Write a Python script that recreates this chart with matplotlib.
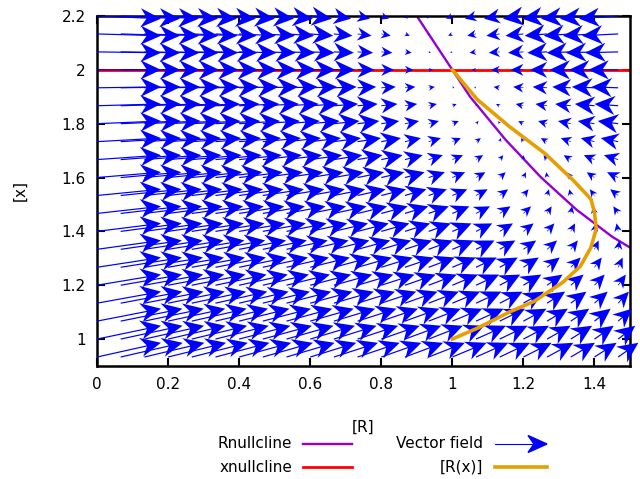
import numpy as np
import matplotlib
matplotlib.use("Agg")
from matplotlib import pyplot as plt
from matplotlib.lines import Line2D
from matplotlib.patches import Polygon

# R nullcline (R, x)
rnull_R = [0.90, 0.95, 1.00, 1.05, 1.10, 1.15, 1.20, 1.25, 1.30, 1.35, 1.40, 1.45, 1.50]
rnull_x = [2.20, 2.10, 2.00, 1.90, 1.82, 1.74, 1.67, 1.60, 1.54, 1.48, 1.43, 1.38, 1.34]

# x nullcline
xnull_R = [0.0, 1.5]
xnull_x = [2.0, 2.0]

# trajectory [R(x)]
traj_R = [1.00, 1.07, 1.16, 1.23, 1.31, 1.36, 1.39, 1.405, 1.40, 1.39, 1.34, 1.26, 1.16, 1.07, 1.00]
traj_x = [1.00, 1.04, 1.10, 1.14, 1.21, 1.27, 1.34, 1.41, 1.47, 1.52, 1.59, 1.69, 1.79, 1.89, 2.00]

# vector field grid (step 1/15) and the rates of the system
grid_R = np.arange(0, 23) / 15
grid_x = np.arange(14, 34) / 15
prod = 2.0       # dR/dt = prod - R*x
x_set = 2.0      # dx/dt = relax*(x_set - x)
relax = 0.55
arrow_scale = 0.09

plt.rcParams['font.family'] = ['DejaVu Sans']

fig = plt.figure(figsize=(6.4, 4.79), dpi=100)
ax = fig.add_axes([97 / 640, 1 - 366 / 479, 533 / 640, 350 / 479])

ax.plot(rnull_R, rnull_x, color='#9400d3', lw=1.7, zorder=2)
ax.plot(xnull_R, xnull_x, color='#ff0000', lw=2.0, zorder=2)

RR, XX = np.meshgrid(grid_R, grid_x)
dR = prod - RR * XX
dX = relax * (x_set - XX)
ax.quiver(RR, XX, dR * arrow_scale, dX * arrow_scale, angles='xy', scale_units='xy',
          scale=1, units='dots', width=1.2, headwidth=16, headlength=17,
          headaxislength=12, minlength=0.3, color='#0000ff', clip_on=False, zorder=3)

ax.plot(traj_R, traj_x, color='#e69f00', lw=2.6, zorder=4)

ax.set_xlim(0, 1.5)
ax.set_ylim(0.9, 2.2)
ax.set_xticks([0, 0.2, 0.4, 0.6, 0.8, 1.0, 1.2, 1.4])
ax.set_xticklabels(['0', '0.2', '0.4', '0.6', '0.8', '1', '1.2', '1.4'])
ax.set_yticks([1.0, 1.2, 1.4, 1.6, 1.8, 2.0, 2.2])
ax.set_yticklabels(['1', '1.2', '1.4', '1.6', '1.8', '2', '2.2'])
ax.tick_params(direction='in', top=True, right=True, length=6, width=1.5,
               labelsize=11, pad=8)
for sp in ax.spines.values():
    sp.set_linewidth(1.8)

fig.text(20 / 640, 1 - 191 / 479, '[x]', rotation=90, ha='center', va='center', fontsize=11)
fig.text(363 / 640, 1 - 427 / 479, '[R]', ha='center', va='center', fontsize=11)

# key below the plot, gnuplot style (text then sample)
rows = [444, 467]
fig.text(292 / 640, 1 - rows[0] / 479, 'Rnullcline', ha='right', va='center', fontsize=11)
fig.text(292 / 640, 1 - rows[1] / 479, 'xnullcline', ha='right', va='center', fontsize=11)
fig.text(483 / 640, 1 - rows[0] / 479, 'Vector field', ha='right', va='center', fontsize=11)
fig.text(483 / 640, 1 - rows[1] / 479, '[R(x)]', ha='right', va='center', fontsize=11)
fig.add_artist(Line2D([303 / 640, 352 / 640], [1 - rows[0] / 479] * 2, color='#9400d3', lw=1.7))
fig.add_artist(Line2D([303 / 640, 352 / 640], [1 - rows[1] / 479] * 2, color='#ff0000', lw=2.0))
fig.add_artist(Line2D([495 / 640, 547 / 640], [1 - rows[1] / 479] * 2, color='#e69f00', lw=2.6))
yk = (479 - rows[0]) / 100
fig.add_artist(Line2D([4.95, 5.35], [yk, yk], color='#0000ff', lw=0.8,
                      transform=fig.dpi_scale_trans))
fig.add_artist(Polygon([[5.47, yk], [5.28, yk + 0.085], [5.34, yk], [5.28, yk - 0.085]],
                       closed=True, color='#0000ff', transform=fig.dpi_scale_trans))

fig.savefig('out.png', dpi=100)
